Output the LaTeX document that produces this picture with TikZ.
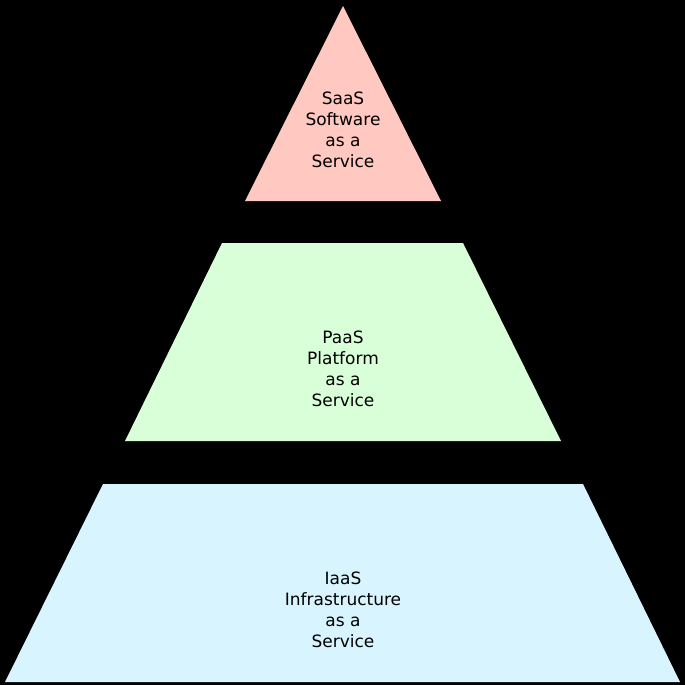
\documentclass[tikz,border=0pt]{standalone}
\usepackage{fontspec}
\setmainfont{DejaVu Sans}
\definecolor{saascol}{HTML}{FFC8C0}
\definecolor{paascol}{HTML}{D9FFD9}
\definecolor{iaascol}{HTML}{D8F5FF}
\tikzset{
  layer/.style={draw=none},
  label/.style={align=center,font=\fontsize{17}{21}\selectfont,text=black,inner sep=0pt}
}
\begin{document}
\begin{tikzpicture}[x=1pt,y=-1pt]
    \fill[black] (0,0) rectangle (685,685); %fond
    \useasboundingbox (0,0) rectangle (685,685);
    \fill[layer,saascol] (343,6) -- (441,201) -- (245,201) -- cycle; %Triangle haut
    \fill[layer,paascol] (222,243) -- (463,243) -- (561,441) -- (125,441) -- cycle; %Milieu
    \fill[layer,iaascol] (103,484) -- (583,484) -- (680,682) -- (5,682) -- cycle; %Bas
    \node[label] (saas) at (343,130) {SaaS\\Software\\as a\\Service};
    \node[label] (paas) at (343,369) {PaaS\\Platform\\as a\\Service};
    \node[label] (iaas) at (343,610) {IaaS\\Infrastructure\\as a\\Service};
\end{tikzpicture}
\end{document}
